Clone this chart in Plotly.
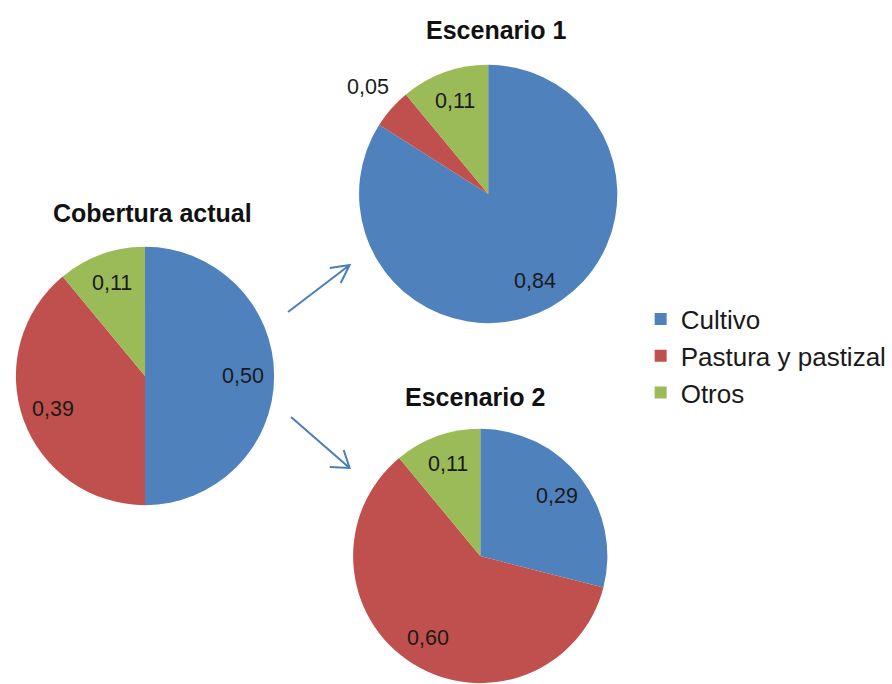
import math
import plotly.graph_objects as go

# Land-cover shares for the current situation and two scenarios
categories = ["Cultivo", "Pastura y pastizal", "Otros"]
actual = [0.50, 0.39, 0.11]
escenario1 = [0.84, 0.05, 0.11]
escenario2 = [0.29, 0.60, 0.11]
titles = ["Cobertura actual", "Escenario 1", "Escenario 2"]

colors = ["#4F81BD", "#C0504D", "#9BBB59"]
FONT = "Liberation Sans, Arial, sans-serif"
W, H = 892, 684

# pie placement in pixels: centre x, centre y, radius
boxes = [(146, 376, 130), (491.5, 194, 130), (483.5, 556, 128)]
title_pos = [(154, 213), (499, 30), (478, 397)]


def px(x):
    return x / W


def py(y):
    return 1 - y / H


fig = go.Figure()
annotations = []
series = [actual, escenario1, escenario2]

for i, (vals, (cx, cy, r)) in enumerate(zip(series, boxes)):
    fig.add_trace(go.Pie(
        labels=categories,
        values=vals,
        sort=False,
        direction="clockwise",
        rotation=0,
        textinfo="none",
        hoverinfo="label+value",
        marker=dict(colors=colors, line=dict(width=0)),
        domain=dict(x=[px(cx - r), px(cx + r)],
                    y=[max(0, py(cy + r)), py(cy - r)]),
        showlegend=(i == 0),
    ))
    # value labels along each slice's mid-angle
    total = sum(vals)
    start = 0.0
    for v in vals:
        mid = (start + v / 2) / total * 2 * math.pi
        start += v
        f = 1.24 if v / total < 0.08 else 0.76
        lx = cx + f * r * math.sin(mid)
        ly = cy - f * r * math.cos(mid)
        annotations.append(dict(
            x=px(lx), y=py(ly), xref="paper", yref="paper",
            text=f"{v:.2f}".replace(".", ","), showarrow=False,
            font=dict(family=FONT, size=21.5, color="#1a1a1a"),
            xanchor="center", yanchor="middle"))

for t, (tx, ty) in zip(titles, title_pos):
    annotations.append(dict(
        x=px(tx), y=py(ty), xref="paper", yref="paper",
        text=f"<b>{t}</b>", showarrow=False,
        font=dict(family=FONT, size=25, color="#111111"),
        xanchor="center", yanchor="middle"))

# transition arrows with open heads
arrow_color = "#4A7EBB"
arrows = [
    ((290, 312), (352, 265), (332, 268), (343, 283)),
    ((293, 417), (352, 468), (346, 450), (332, 467)),
]
shapes = []
for (x0, y0), (x1, y1), (wa_x, wa_y), (wb_x, wb_y) in arrows:
    path = (f"M {px(x0)} {py(y0)} L {px(x1)} {py(y1)} "
            f"M {px(wa_x)} {py(wa_y)} L {px(x1)} {py(y1)} L {px(wb_x)} {py(wb_y)}")
    shapes.append(dict(type="path", xref="paper", yref="paper", path=path,
                       line=dict(color=arrow_color, width=2)))

fig.update_layout(
    width=W, height=H,
    margin=dict(l=0, r=0, t=0, b=0),
    paper_bgcolor="white",
    plot_bgcolor="white",
    annotations=annotations,
    shapes=shapes,
    legend=dict(
        x=px(645), y=py(356), xanchor="left", yanchor="middle",
        font=dict(family=FONT, size=26, color="#1a1a1a"),
        bgcolor="rgba(0,0,0,0)",
    ),
)

fig.write_html("out.html")
